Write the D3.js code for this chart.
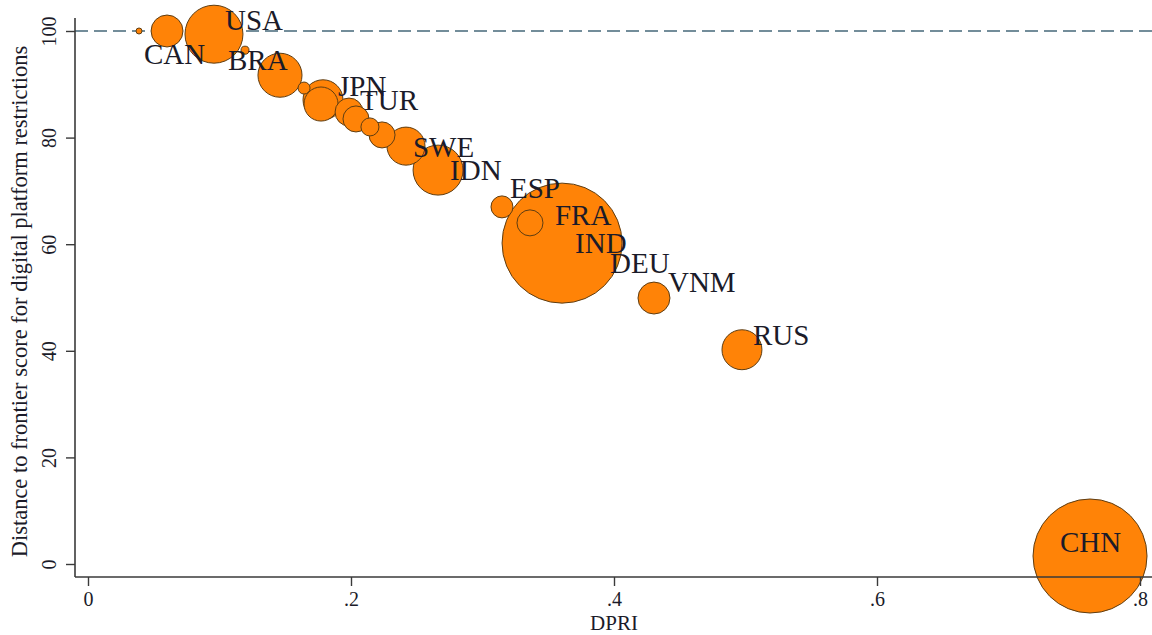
<!DOCTYPE html>
<html><head><meta charset="utf-8">
<script src="https://cdn.jsdelivr.net/npm/d3@7"></script>
<style>body{margin:0;background:#fff}svg{display:block}</style>
</head><body><svg id="c" width="1152" height="635"></svg>
<script>
// ---- data ----
const bubbleIso = ["", "CAN", "USA", "", "BRA", "", "JPN", "", "TUR", "", "", "", "SWE", "IDN", "ESP", "FRA", "IND", "VNM", "RUS", "CHN"];
const dpri = [0.0388, 0.0601, 0.0958, 0.1194, 0.1460, 0.1643, 0.1787, 0.1772, 0.1985, 0.2038, 0.2144, 0.2236, 0.2418, 0.2662, 0.3148, 0.3361, 0.3605, 0.4304, 0.4973, 0.7620];
const dtf = [100.0, 100.0, 99.4, 96.4, 91.7, 89.3, 87.1, 86.3, 84.8, 83.5, 82.0, 80.5, 78.4, 73.9, 67.0, 64.0, 60.2, 49.9, 40.2, 1.5];
const weight = [3.9, 110, 362, 6.9, 209, 15.5, 172, 125, 84, 73, 35, 73, 156, 269, 52, 73, 1551, 110, 172, 1400];
const labelText = ["USA", "CAN", "BRA", "JPN", "TUR", "SWE", "IDN", "ESP", "FRA", "IND", "DEU", "VNM", "RUS", "CHN"];
const labelAnchor = ["USA", "CAN", "BRA", "JPN", "TUR", "SWE", "IDN", "ESP", "FRA", "IND", "IND", "VNM", "RUS", "CHN"];
const xTicks = [0, 0.2, 0.4, 0.6, 0.8];
const yTicks = [0, 20, 40, 60, 80, 100];
const frontier = 100;
const xTitle = "DPRI";
const yTitle = "Distance to frontier score for digital platform restrictions";

// ---- style ----
const labelOffset = {USA:[11,-4], CAN:[-23,33], BRA:[-52,-5], JPN:[15,-4], TUR:[11,-2], SWE:[7,11], IDN:[12,10],
  ESP:[8,-9], FRA:[25,2], IND:[13,10], DEU:[48,30], VNM:[14,-6], RUS:[11,-5], CHN:[-30,-4]};
const serif = "'Liberation Serif','Times New Roman',serif";
const W = 1152, H = 635;
const axisLeft = 75, axisBottom = 577, axisTop = 18;

const svg = d3.select("#c");
const x = d3.scaleLinear().domain([0, 0.8]).range([88, 1140]);
const y = d3.scaleLinear().domain([0, 100]).range([564, 31]);
const r = d3.scaleSqrt().domain([0, 1400]).range([0, 57]);

const data = dpri.map((d, i) => ({iso: bubbleIso[i], x: d, y: dtf[i], w: weight[i]}));

// frontier dashed line
svg.append("line").attr("x1", axisLeft).attr("x2", W).attr("y1", y(frontier)).attr("y2", y(frontier))
  .attr("stroke", "#46687a").attr("stroke-width", 1.5).attr("stroke-dasharray", "13,6");

// bubbles
svg.append("g").selectAll("circle").data(data.slice().sort((a, b) => b.w - a.w)).join("circle")
  .attr("cx", d => x(d.x)).attr("cy", d => y(d.y)).attr("r", d => r(d.w))
  .attr("fill", "#ff8307").attr("stroke", "#5e3d12").attr("stroke-width", 1);

// labels
const byIso = {};
data.forEach(d => { if (d.iso) byIso[d.iso] = d; });
svg.append("g").selectAll("text").data(labelText).join("text")
  .attr("x", (t, i) => x(byIso[labelAnchor[i]].x) + labelOffset[t][0])
  .attr("y", (t, i) => y(byIso[labelAnchor[i]].y) + labelOffset[t][1])
  .attr("font-family", serif).attr("font-size", 29).attr("fill", "#1b1b29")
  .text(t => t);

// axes
const fmt = d => d === 0 ? "0" : d3.format(".1f")(d).replace(/^0/, "");
const gx = svg.append("g").attr("transform", `translate(0,${axisBottom})`)
  .call(d3.axisBottom(x).tickValues(xTicks).tickFormat(fmt).tickSize(9).tickSizeOuter(0).tickPadding(6));
gx.select(".domain").remove();
gx.selectAll("line").attr("stroke", "#3a3a3a").attr("stroke-width", 1.4);
gx.selectAll("text").attr("font-family", serif).attr("font-size", 20).attr("fill", "#1b1b29");

const gy = svg.append("g").attr("transform", `translate(${axisLeft},0)`)
  .call(d3.axisLeft(y).tickValues(yTicks).tickSize(9).tickSizeOuter(0).tickPadding(8));
gy.select(".domain").remove();
gy.selectAll("line").attr("stroke", "#3a3a3a").attr("stroke-width", 1.4);
gy.selectAll("text").attr("font-family", serif).attr("font-size", 20).attr("fill", "#1b1b29")
  .attr("text-anchor", "middle").attr("dy", 0)
  .attr("transform", "rotate(-90)")
  .attr("x", 0).attr("y", -19);

svg.append("line").attr("x1", axisLeft).attr("x2", W).attr("y1", axisBottom).attr("y2", axisBottom)
  .attr("stroke", "#3a3a3a").attr("stroke-width", 1.6);
svg.append("line").attr("x1", axisLeft).attr("x2", axisLeft).attr("y1", axisTop).attr("y2", axisBottom)
  .attr("stroke", "#3a3a3a").attr("stroke-width", 1.6);

svg.append("text").attr("x", x(0.4)).attr("y", 630).attr("text-anchor", "middle")
  .attr("font-family", serif).attr("font-size", 21).attr("fill", "#1b1b29").text(xTitle);
svg.append("text").attr("transform", `translate(27,${(y(0) + y(100)) / 2 + 4}) rotate(-90)`)
  .attr("text-anchor", "middle").attr("font-family", serif).attr("font-size", 22.5).attr("fill", "#1b1b29").text(yTitle);
</script></body></html>
